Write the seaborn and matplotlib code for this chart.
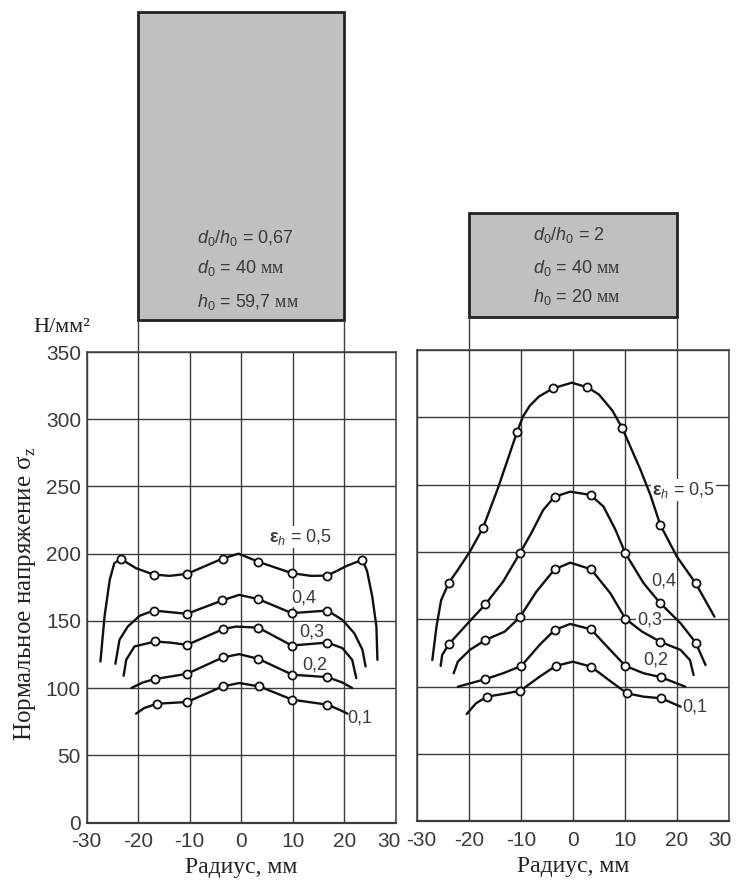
import numpy as np
import pandas as pd
import matplotlib
matplotlib.use("Agg")
import matplotlib.pyplot as plt
from matplotlib.patches import Rectangle
from matplotlib.transforms import ScaledTranslation
import seaborn as sns

# ── Data ────────────────────────────────────────────────
# left panel: d0/h0 = 0,67 ; m = 1 where a measured point (circle) sits
L05_x = [-27.3, -26.5, -25.5, -24.6, -23.3, -20.4, -17.0, -13.9, -10.5, -3.6, -0.5, 3.3, 9.8, 13.5, 16.7, 20.5, 23.5, 24.4, 25.4, 26.2, 26.4]
L05_y = [119.8, 153.3, 180.5, 193.0, 196.0, 189.2, 184.5, 183.5, 185.0, 196.4, 200.0, 194.0, 185.5, 183.5, 183.7, 191.0, 195.5, 187.0, 168.1, 145.8, 121.1]
L05_m = [0, 0, 0, 0, 1, 0, 1, 0, 1, 1, 0, 1, 1, 0, 1, 0, 1, 0, 0, 0, 0]

L04_x = [-24.4, -23.6, -22.0, -19.7, -17.0, -10.5, -3.7, -0.4, 3.3, 9.8, 16.7, 19.6, 21.9, 23.5, 24.1]
L04_y = [118.1, 136.0, 145.8, 153.8, 157.7, 155.3, 165.2, 169.4, 166.2, 155.8, 157.7, 150.8, 140.9, 128.5, 116.1]
L04_m = [0, 0, 0, 0, 1, 1, 1, 0, 1, 1, 1, 0, 0, 0, 0]

L03_x = [-22.8, -22.3, -20.7, -16.7, -13.6, -10.5, -3.5, -1.0, 3.3, 9.8, 16.7, 19.6, 21.5, 22.3]
L03_y = [109.2, 121.1, 131.0, 134.7, 133.8, 132.2, 143.9, 145.8, 145.0, 131.7, 133.9, 129.8, 121.1, 107.5]
L03_m = [0, 0, 0, 1, 0, 1, 1, 0, 1, 1, 1, 0, 0, 0]

L02_x = [-21.3, -19.1, -16.8, -10.5, -3.6, -0.4, 3.3, 9.9, 16.7, 19.6, 21.5]
L02_y = [100.1, 104.2, 106.7, 110.7, 122.8, 125.3, 121.8, 110.0, 108.2, 104.2, 100.1]
L02_m = [0, 0, 1, 1, 1, 0, 1, 1, 1, 0, 0]

L01_x = [-20.4, -18.8, -16.4, -10.5, -3.6, -0.4, 3.5, 9.9, 16.7, 19.0, 20.6]
L01_y = [81.0, 85.2, 88.4, 89.7, 101.3, 103.8, 101.3, 91.4, 87.7, 84.0, 81.0]
L01_m = [0, 0, 1, 1, 1, 0, 1, 1, 1, 0, 0]

# right panel: d0/h0 = 2
R05_x = [-27.0, -26.2, -25.3, -23.8, -22.1, -19.8, -17.3, -14.4, -12.4, -10.7, -9.6, -8.3, -6.5, -3.8, -0.2, 2.8, 5.0, 7.6, 9.5, 13.0, 14.9, 16.8, 20.0, 23.6, 27.2]
R05_y = [119.8, 144.6, 164.4, 177.3, 186.7, 200.2, 217.6, 247.3, 270.0, 289.4, 300.5, 308.5, 315.5, 321.6, 325.7, 322.3, 317.0, 305.0, 291.9, 261.0, 242.4, 220.1, 196.5, 176.8, 152.0]
R05_m = [0, 0, 0, 1, 0, 0, 1, 0, 0, 1, 0, 0, 0, 1, 0, 1, 0, 0, 1, 0, 0, 1, 0, 1, 0]

R04_x = [-25.4, -25.1, -23.8, -19.9, -16.8, -13.4, -10.2, -8.0, -5.7, -3.5, -0.5, 3.4, 5.9, 8.2, 10.1, 13.6, 16.7, 20.7, 23.6, 25.5]
R04_y = [115.4, 123.6, 131.7, 148.3, 161.2, 178.0, 199.0, 213.9, 231.2, 241.1, 244.8, 242.4, 233.7, 216.4, 199.0, 176.8, 162.4, 147.1, 132.7, 116.1]
R04_m = [0, 0, 1, 0, 1, 0, 1, 0, 0, 1, 0, 1, 0, 0, 1, 0, 1, 0, 1, 0]

R03_x = [-22.9, -22.1, -19.8, -16.8, -13.1, -10.2, -7.0, -3.5, -0.5, 3.5, 7.2, 10.1, 13.3, 16.8, 20.7, 22.5, 23.2]
R03_y = [110.0, 118.6, 127.3, 134.7, 140.9, 151.5, 170.6, 187.2, 192.1, 187.2, 169.4, 150.5, 140.9, 133.4, 127.3, 119.8, 108.7]
R03_m = [0, 0, 0, 1, 0, 1, 0, 1, 0, 1, 0, 1, 0, 1, 0, 0, 0]

R02_x = [-22.1, -16.9, -13.4, -9.9, -6.4, -3.5, -0.5, 3.5, 6.6, 10.1, 13.6, 17.0, 21.6]
R02_y = [100.0, 105.5, 110.0, 115.4, 131.0, 142.1, 146.6, 142.6, 129.7, 115.4, 110.0, 107.0, 100.0]
R02_m = [0, 1, 0, 1, 0, 1, 0, 1, 0, 1, 0, 1, 0]

R01_x = [-20.4, -18.6, -16.5, -13.4, -10.1, -6.4, -3.3, 0.0, 3.5, 6.9, 10.4, 13.6, 17.0, 20.7]
R01_y = [79.7, 87.7, 92.6, 94.6, 97.0, 107.4, 115.4, 118.6, 114.9, 105.0, 95.1, 92.6, 91.4, 85.2]
R01_m = [0, 0, 1, 0, 1, 0, 1, 0, 1, 0, 1, 0, 1, 0]

eps_levels = ["0,5", "0,4", "0,3", "0,2", "0,1"]
x_ticks = [-30, -20, -10, 0, 10, 20, 30]
y_ticks = [0, 50, 100, 150, 200, 250, 300, 350]

# billet geometry (mm): diameter and height of the sketched specimen
d0 = 40
h0_left = 59.7
h0_right = 20

# ── Long table ───────────────────────────────────────────
curves = {
    "left": [(L05_x, L05_y, L05_m), (L04_x, L04_y, L04_m), (L03_x, L03_y, L03_m),
             (L02_x, L02_y, L02_m), (L01_x, L01_y, L01_m)],
    "right": [(R05_x, R05_y, R05_m), (R04_x, R04_y, R04_m), (R03_x, R03_y, R03_m),
              (R02_x, R02_y, R02_m), (R01_x, R01_y, R01_m)],
}
rows = []
for panel, lst in curves.items():
    for eps, (xs, ys, ms) in zip(eps_levels, lst):
        for i, (x, y, m) in enumerate(zip(xs, ys, ms)):
            rows.append({"panel": panel, "eps": eps, "i": i, "x": x, "y": y, "m": m})
df = pd.DataFrame(rows)

# ── Style ────────────────────────────────────────────────
sns.set_style("white")
plt.rcParams["font.family"] = ["Liberation Sans", "DejaVu Sans"]
plt.rcParams["mathtext.fontset"] = "custom"
plt.rcParams["mathtext.rm"] = "Liberation Sans"
plt.rcParams["mathtext.it"] = "Liberation Sans:italic"
plt.rcParams["mathtext.bf"] = "Liberation Sans:bold"
plt.rcParams["mathtext.sf"] = "Liberation Serif"

SERIF = ["Liberation Serif", "DejaVu Serif"]
TXT = "#3a3a3a"
GRID = "#3c3c3c"

W, H = 737, 883
fig = plt.figure(figsize=(W / 100, H / 100), dpi=100)

# plot axes, pixel boxes from the reference
axL = fig.add_axes([86.5 / W, (H - 822.6) / H, 309.5 / W, 470.6 / H])
axR = fig.add_axes([416.7 / W, (H - 821.4) / H, 312.3 / W, 471.4 / H])
# sketch axes above each plot, same x scale, y in mm
topL = fig.add_axes([86.5 / W, (H - 352) / H, 309.5 / W, 352 / H])
topR = fig.add_axes([416.7 / W, (H - 350) / H, 312.3 / W, 350 / H])

labels_pos = {
    "left": [(5.4, 212.7), (9.6, 167.0), (11.2, 142.0), (11.9, 117.4), (20.6, 77.8)],
    "right": [(15.2, 246.0), (15.0, 178.7), (12.4, 149.5), (13.5, 119.8), (21.1, 85.2)],
}


def shift(label, dx_px):
    label.set_transform(label.get_transform() +
                        ScaledTranslation(dx_px / 100, 0, fig.dpi_scale_trans))


for ax, panel in [(axL, "left"), (axR, "right")]:
    sub = df[df["panel"] == panel]
    sns.lineplot(data=sub, x="x", y="y", units="eps", estimator=None, sort=False,
                 color="#111111", lw=1.7, ax=ax, legend=False, zorder=3)
    for ln in ax.lines:
        ln.set_solid_joinstyle("round")
        ln.set_solid_capstyle("round")
    sns.scatterplot(data=sub[sub["m"] == 1], x="x", y="y", marker="o", s=34,
                    facecolor="white", edgecolor="#111111", linewidth=1.3,
                    ax=ax, legend=False, zorder=4)

    ax.set_xlim(-30, 30)
    ax.set_ylim(0, 350)
    ax.set_axisbelow(True)
    ax.grid(True, color=GRID, lw=1.0)
    for sp in ax.spines.values():
        sp.set_color(GRID)
        sp.set_linewidth(1.1)
    ax.spines["bottom"].set_linewidth(1.6)
    ax.set_xticks(x_ticks, labels=[str(t) for t in x_ticks])
    if panel == "left":
        ax.set_yticks(y_ticks, labels=[str(t) for t in y_ticks])
    else:
        ax.set_yticks(y_ticks, labels=[""] * len(y_ticks))
    ax.tick_params(length=0, labelsize=15, labelcolor=TXT)
    ax.tick_params(axis="x", pad=7)
    ax.tick_params(axis="y", pad=4)
    ax.set_xlabel("Радиус, мм", fontfamily=SERIF, fontsize=17, color="#222222", labelpad=4)
    ax.set_ylabel("")

    for k, (lab, (tx, ty)) in enumerate(zip(eps_levels, labels_pos[panel])):
        s = r"$\mathbf{\varepsilon}_{h}$ = " + lab if k == 0 else lab
        ax.text(tx, ty, s, ha="left", va="center", fontsize=13, color=TXT, zorder=2,
                bbox=dict(fc="white", ec="none", pad=0.6))

# keep the touching "30-30" and the last "30" inside the picture
xl = axL.get_xticklabels()
xr = axR.get_xticklabels()
shift(xl[-1], -7)
shift(xr[0], 5)
shift(xr[-1], -9)

# ── Specimen sketches ────────────────────────────────────
GAP = 6.3
sketch = [
    (topL, h0_left, 352 / (309.5 / 60), -8.5,
     [r"$d_0/h_0$ = 0,67", r"$d_0$ = 40 $\mathsf{мм}$", r"$h_0$ = 59,7 $\mathsf{мм}$"],
     [22.1, 16.3, 9.7]),
    (topR, h0_right, 350 / (312.3 / 60), -7.6,
     [r"$d_0/h_0$ = 2", r"$d_0$ = 40 $\mathsf{мм}$", r"$h_0$ = 20 $\mathsf{мм}$"],
     [22.1, 15.7, 10.2]),
]
for ax, h0, ytop, tx, texts, tys in sketch:
    ax.set_xlim(-30, 30)
    ax.set_ylim(0, ytop)
    ax.axis("off")
    ax.add_patch(Rectangle((-d0 / 2, GAP), d0, h0, fc="#c0c0c0", ec="#222222", lw=2.0))
    for xv in (-d0 / 2, d0 / 2):
        ax.plot([xv, xv], [0, GAP], color=GRID, lw=1.0)
    for s, ty in zip(texts, tys):
        ax.text(tx, ty, s, ha="left", va="center", fontsize=13, color=TXT)

# axis titles
fig.text(62 / W, 1 - 328 / H, "Н/мм²", fontfamily=SERIF, fontsize=16, color="#222222",
         ha="center", va="center")
fig.text(25 / W, 1 - 594 / H, r"Нормальное напряжение $\mathsf{σ}_\mathsf{z}$", fontfamily=SERIF,
         fontsize=18, color="#222222", rotation=90, ha="center", va="center")

plt.savefig("out.png", dpi=100)
plt.close()
